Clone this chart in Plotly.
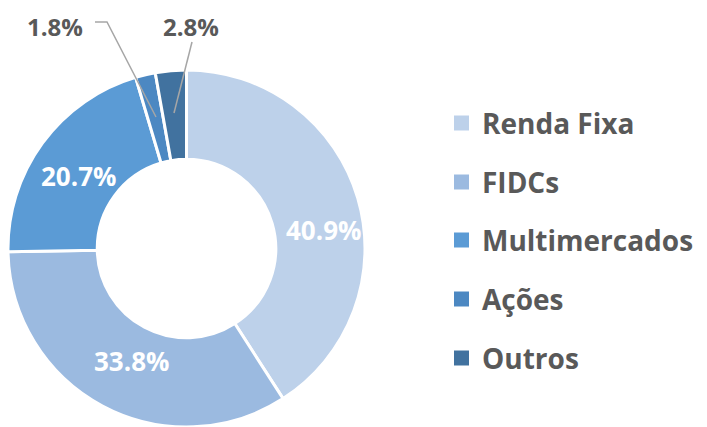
import plotly.graph_objects as go

labels = ["Renda Fixa", "FIDCs", "Multimercados", "Ações", "Outros"]
values = [40.9, 33.8, 20.7, 1.8, 2.8]
colors = ["#BDD1EA", "#9BBAE0", "#5B9BD5", "#4C88C2", "#41729F"]

# page body has an 8px margin; work in reference-pixel coordinates and shift
OFF = 8
W, H = 707 - OFF, 427 - OFF
def px(x):
    return (x - OFF) / W
def py(y):
    return 1 - (y - OFF) / H

FONT = "Open Sans"
GRAY = "#595959"

fig = go.Figure(go.Pie(
    labels=labels, values=values, sort=False, direction="clockwise", rotation=0,
    hole=0.5, textinfo="none", showlegend=False,
    marker=dict(colors=colors, line=dict(color="white", width=3)),
    domain=dict(x=[0, px(365)], y=[0, py(70)]),
    hoverinfo="label+percent",
))

# data labels
inside_pos = {0: (323, 230), 1: (131, 361), 2: (78, 176)}
outside_pos = {3: (55, 26), 4: (191, 26)}
annotations = []
for i, v in enumerate(values):
    if i in inside_pos:
        x, y = inside_pos[i]
        annotations.append(dict(x=px(x), y=py(y), xref="paper", yref="paper",
                                text=f"<b>{v}%</b>", showarrow=False,
                                font=dict(family=FONT, size=26, color="white"),
                                xanchor="center", yanchor="middle"))
    else:
        x, y = outside_pos[i]
        annotations.append(dict(x=px(x), y=py(y), xref="paper", yref="paper",
                                text=f"<b>{v}%</b>", showarrow=False,
                                font=dict(family=FONT, size=24, color=GRAY),
                                borderpad=0,
                                xanchor="center", yanchor="middle"))

shapes = []
# leader lines
shapes.append(dict(type="path", xref="paper", yref="paper",
                   path=f"M {px(95)},{py(22)} L {px(107)},{py(22)} L {px(156)},{py(117)}",
                   line=dict(color="#A6A6A6", width=1.5)))
shapes.append(dict(type="line", xref="paper", yref="paper",
                   x0=px(192), y0=py(42), x1=px(174), y1=py(113),
                   line=dict(color="#A6A6A6", width=1.5)))

# legend
leg_y = [123, 182, 240, 299, 358]
for lab, col, yy in zip(labels, colors, leg_y):
    shapes.append(dict(type="rect", xref="paper", yref="paper",
                       x0=px(454), x1=px(469), y0=py(yy - 7.5), y1=py(yy + 7.5),
                       fillcolor=col, line=dict(width=0)))
    annotations.append(dict(x=px(480), y=py(yy), xref="paper", yref="paper",
                            text=f"<b>{lab}</b>", showarrow=False,
                            font=dict(family=FONT, size=28, color=GRAY),
                            xanchor="left", yanchor="middle"))

fig.update_layout(
    width=W, height=H, margin=dict(l=0, r=0, t=0, b=0),
    paper_bgcolor="white", plot_bgcolor="white",
    annotations=annotations, shapes=shapes,
)

fig.write_html("out.html")
